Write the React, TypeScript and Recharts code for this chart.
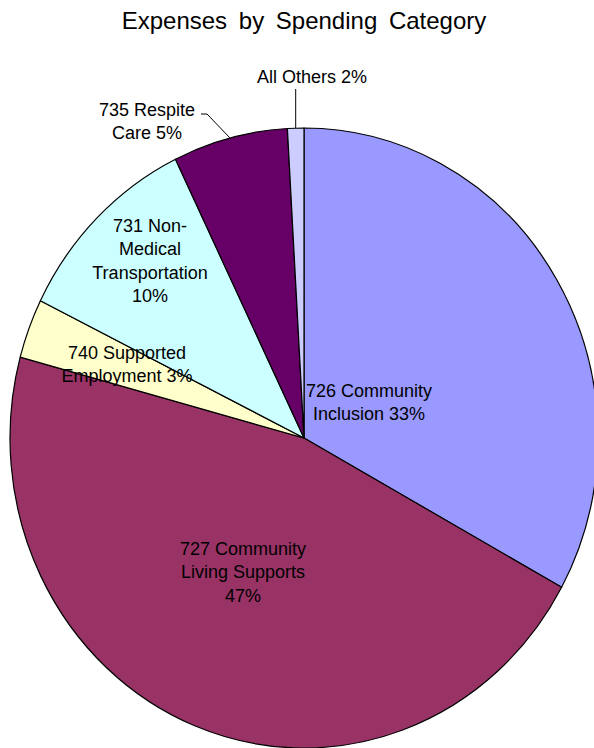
import React from 'react';
import { PieChart, Pie, Cell } from 'recharts';

// Values (slice angles), and the rounded % that the chart prints
const categories = [
    '726 Community Inclusion',
    '727 Community Living Supports',
    '740 Supported Employment',
    '731 Non-Medical Transportation',
    '735 Respite Care',
    'All Others',
];
const shares = [33.0, 46.2, 3.1, 10.5, 6.3, 0.9];
const labelLines = [
    ['726 Community', 'Inclusion 33%'],
    ['727 Community', 'Living Supports', '47%'],
    ['740 Supported', 'Employment 3%'],
    ['731 Non-', 'Medical', 'Transportation', '10%'],
    ['735 Respite', 'Care 5%'],
    ['All Others 2%'],
];
const colors = ['#9999FF', '#993366', '#FFFFCC', '#CCFFFF', '#660066', '#CCCCFF'];

// label placement relative to the pie centre (first baseline), and which ones get a leader line
const labelOffsets = [
    [65, -41],
    [-61, 117],
    [-177, -79],
    [-154, -206],
    [-157, -322],
    [8, -355],
];
const leader = [false, false, false, false, true, true];

const RAD = Math.PI / 180;
const Y_STRETCH = 310 / 294; // the original pie is a slightly tall ellipse
const FONT = '"Liberation Sans", Arial, sans-serif';
const LINE_H = 23.4;

const data = categories.map((name, i) => ({ name, value: shares[i] }));

const EllipseSector = (props: any) => {
    const { cx, cy, outerRadius, startAngle, endAngle, fill } = props;
    const rx = outerRadius;
    const ry = outerRadius * Y_STRETCH;
    const pt = (a: number) => [cx + rx * Math.cos(-a * RAD), cy + ry * Math.sin(-a * RAD)];
    const [x1, y1] = pt(startAngle);
    const [x2, y2] = pt(endAngle);
    const large = Math.abs(endAngle - startAngle) > 180 ? 1 : 0;
    const sweep = startAngle > endAngle ? 1 : 0;
    return (
        <path
            d={`M${cx},${cy} L${x1},${y1} A${rx},${ry} 0 ${large} ${sweep} ${x2},${y2} Z`}
            fill={fill}
            stroke="#000"
            strokeWidth={1.2}
            strokeLinejoin="round"
        />
    );
};

const renderLabel = (props: any) => {
    const { cx, cy, outerRadius, midAngle, index } = props;
    const [dx, dy] = labelOffsets[index];
    const x = cx + dx;
    const y = cy + dy;
    const lines = labelLines[index];
    let line = null;
    if (leader[index]) {
        const ex = cx + outerRadius * Math.cos(-midAngle * RAD);
        const ey = cy + outerRadius * Y_STRETCH * Math.sin(-midAngle * RAD);
        if (lines.length > 1) {
            // elbow from the end of the first text line down to the slice edge
            const sx = x + 54;
            const sy = y - 2;
            line = <polyline points={`${sx},${sy} ${sx + 6},${sy} ${ex},${ey}`} fill="none" stroke="#000" strokeWidth={1} />;
        } else {
            line = <line x1={ex} y1={y + 6} x2={ex} y2={ey} stroke="#000" strokeWidth={1} />;
        }
    }
    return (
        <g>
            {line}
            <text x={x} y={y} textAnchor="middle" fontFamily={FONT} fontSize={18} fill="#000">
                {lines.map((t, i) => (
                    <tspan key={i} x={x} y={y + i * LINE_H}>{t}</tspan>
                ))}
            </text>
        </g>
    );
};

export default function App() {
    return (
        <div style={{ position: 'relative', width: 594, height: 748, background: '#fff' }}>
            <style>{'body{margin:0}'}</style>
            <PieChart width={594} height={748} margin={{ top: 0, right: 0, bottom: 0, left: 0 }}>
                <Pie
                    data={data}
                    dataKey="value"
                    nameKey="name"
                    cx={304}
                    cy={438}
                    outerRadius={294}
                    startAngle={90}
                    endAngle={-270}
                    isAnimationActive={false}
                    labelLine={false}
                    label={renderLabel}
                    shape={EllipseSector}
                >
                    {data.map((d, i) => (
                        <Cell key={d.name} fill={colors[i]} />
                    ))}
                </Pie>
            </PieChart>
            <svg width={594} height={50} style={{ position: 'absolute', left: 0, top: 0, pointerEvents: 'none' }}>
                <text x={304} y={29} textAnchor="middle" fontFamily={FONT} fontSize={24} wordSpacing={5} fill="#000">
                    Expenses by Spending Category
                </text>
            </svg>
        </div>
    );
}
